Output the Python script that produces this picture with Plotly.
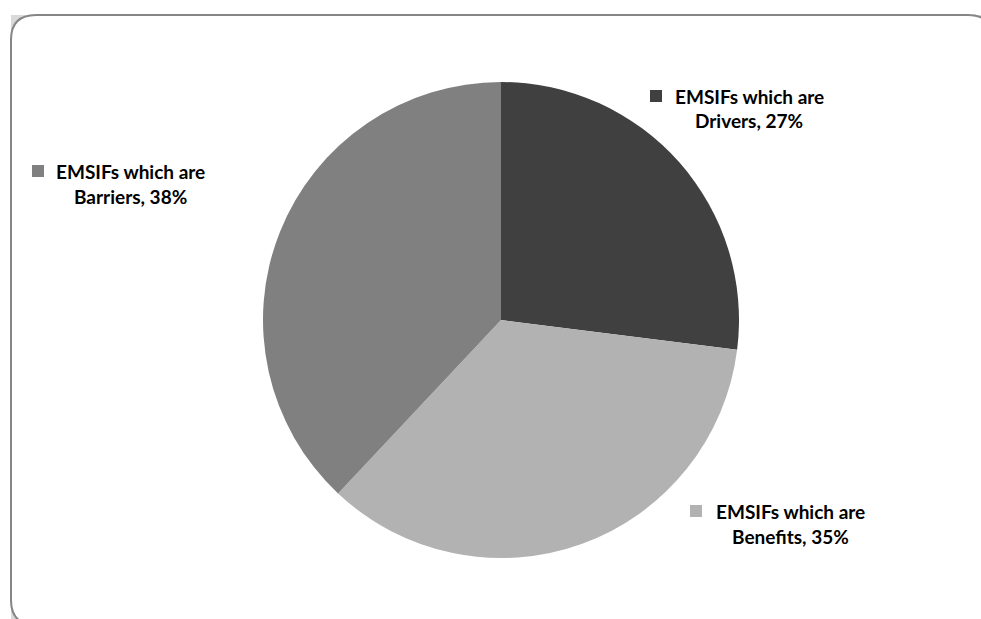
import plotly.graph_objects as go

labels = ["EMSIFs which are Drivers", "EMSIFs which are Benefits", "EMSIFs which are Barriers"]
values = [27, 35, 38]
colors = ["#404040", "#b2b2b2", "#808080"]
label_line1 = ["EMSIFs which are", "EMSIFs which are", "EMSIFs which are"]
label_line2 = ["Drivers, 27%", "Benefits, 35%", "Barriers, 38%"]

W, H = 981, 619

def px(x):
    return x / W

def py(y):
    return 1 - y / H

def P(x, y):
    return f"{px(x):.5f},{py(y):.5f}"

# pie geometry (pixels)
cx, cy, r = 501, 320, 238

fig = go.Figure(go.Pie(
    labels=labels, values=values, sort=False, direction="clockwise", rotation=0,
    marker=dict(colors=colors, line=dict(width=0)),
    textinfo="none", hoverinfo="label+percent", showlegend=False,
    domain=dict(x=[px(cx - r), px(cx + r)], y=[py(cy + r), py(cy - r)]),
))

shapes = []
# rounded frame
x0, y0, x1, y1, rr = 11, 15, 993, 625, 25
frame = (f"M{P(x0 + rr, y0)} L{P(x1 - rr, y0)} Q{P(x1, y0)} {P(x1, y0 + rr)} "
         f"L{P(x1, y1 - rr)} Q{P(x1, y1)} {P(x1 - rr, y1)} "
         f"L{P(x0 + rr, y1)} Q{P(x0, y1)} {P(x0, y1 - rr)} "
         f"L{P(x0, y0 + rr)} Q{P(x0, y0)} {P(x0 + rr, y0)} Z")
corner_tl = f"M{P(x0, y0)} L{P(x0 + rr, y0)} Q{P(x0, y0)} {P(x0, y0 + rr)} Z"
corner_bl = f"M{P(x0, y1)} L{P(x0, y1 - rr)} Q{P(x0, y1)} {P(x0 + rr, y1)} Z"
corner_tr = f"M{P(x1, y0)} L{P(x1 - rr, y0)} Q{P(x1, y0)} {P(x1, y0 + rr)} Z"
for c in (corner_tl, corner_bl, corner_tr):
    shapes.append(dict(type="path", xref="paper", yref="paper", path=c,
                       fillcolor="#d9d9d9", line=dict(width=0), layer="below"))
shapes.append(dict(type="path", xref="paper", yref="paper", path=frame,
                   fillcolor="rgba(0,0,0,0)", line=dict(color="#868686", width=2), layer="below"))

# label positions (pixels): square left x, square center y, text center x, line1 y, line2 y
label_pos = [
    (650, 96, 749, 96.5, 121),
    (690, 511, 790, 511, 536),
    (32, 171, 130, 171, 196),
]
annotations = []
font = dict(family="Lato", size=19, color="#000000")
for i, (sx, sy, tx, l1, l2) in enumerate(label_pos):
    shapes.append(dict(type="rect", xref="paper", yref="paper",
                       x0=px(sx), x1=px(sx + 12), y0=py(sy + 6), y1=py(sy - 6),
                       fillcolor=colors[i], line=dict(width=0)))
    for txt, yy in ((label_line1[i], l1), (label_line2[i], l2)):
        annotations.append(dict(xref="paper", yref="paper", x=px(tx), y=py(yy),
                                text=f"<b>{txt}</b>", showarrow=False,
                                xanchor="center", yanchor="middle", font=font))

fig.update_layout(
    width=W, height=H, margin=dict(l=0, r=0, t=0, b=0),
    paper_bgcolor="white", plot_bgcolor="white",
    shapes=shapes, annotations=annotations,
)

fig.write_html("out.html")
